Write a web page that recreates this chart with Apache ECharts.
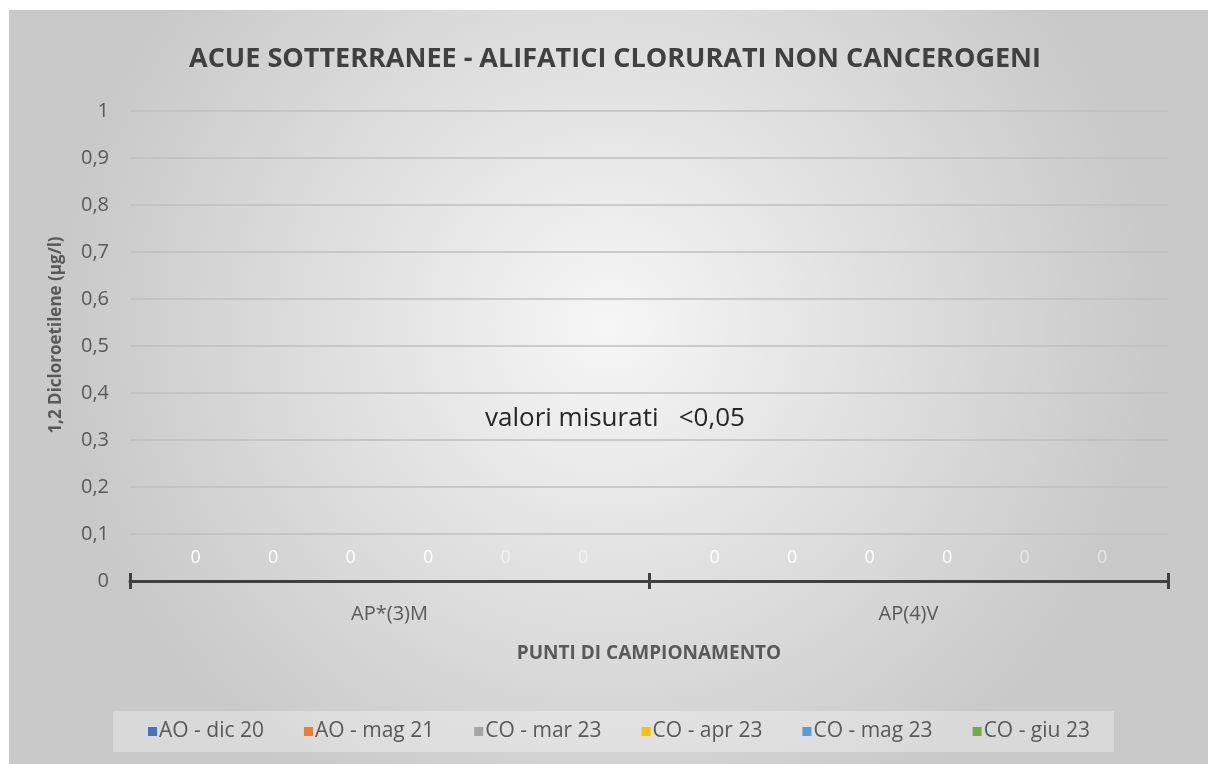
<!DOCTYPE html>
<html>
<head>
<meta charset="utf-8">
<script src="https://cdn.jsdelivr.net/npm/echarts@6/dist/echarts.min.js"></script>
<style>
  html, body { margin: 0; padding: 0; background: #ffffff; }
  #chart { position: absolute; left: 9px; top: 10px; width: 1199px; height: 754px; }
</style>
</head>
<body>
<div id="chart"></div>
<script>
const categories = ['AP*(3)M', 'AP(4)V']
const seriesNames = ['AO - dic 20', 'AO - mag 21', 'CO - mar 23', 'CO - apr 23', 'CO - mag 23', 'CO - giu 23']
const seriesValues = [
  [0, 0],
  [0, 0],
  [0, 0],
  [0, 0],
  [0, 0],
  [0, 0]
]
const seriesColors = ['#4472C4', '#ED7D31', '#A5A5A5', '#FFC000', '#5B9BD5', '#70AD47']
const labelColors = ['#ffffff', '#ffffff', '#ffffff', '#ffffff', 'rgba(255,255,255,0.55)', 'rgba(255,255,255,0.55)']
const yTicks = [0, 0.1, 0.2, 0.3, 0.4, 0.5, 0.6, 0.7, 0.8, 0.9, 1]

const font = '"Open Sans", "Noto Sans", sans-serif'
const fmt = (v) => String(v).replace('.', ',')

const chart = echarts.init(document.getElementById('chart'))

chart.setOption({
  backgroundColor: {
    type: 'radial',
    x: 0.5, y: 0.42, r: 0.72,
    colorStops: [
      { offset: 0, color: '#f6f6f6' },
      { offset: 1, color: '#c9c9c9' }
    ]
  },
  animation: false,
  textStyle: { fontFamily: font },
  title: {
    text: 'ACUE SOTTERRANEE - ALIFATICI CLORURATI NON CANCEROGENI',
    left: 601,
    textAlign: 'center',
    top: 31,
    textStyle: {
      fontSize: 27,
      fontWeight: 'bold',
      color: '#404040'
    }
  },
  legend: {
    data: seriesNames,
    left: 104,
    bottom: 12,
    itemWidth: 9,
    itemHeight: 9,
    itemGap: 40,
    padding: [10, 24, 10, 35],
    backgroundColor: 'rgba(255,255,255,0.3)',
    icon: 'rect',
    textStyle: {
      fontSize: 21,
      color: '#595959',
      padding: [0, 0, 0, -3]
    }
  },
  grid: {
    left: 121,
    right: 40,
    top: 101,
    bottom: 183
  },
  xAxis: [
    {
      type: 'category',
      data: categories,
      name: 'PUNTI DI CAMPIONAMENTO',
      nameLocation: 'middle',
      nameGap: 63,
      nameTextStyle: { fontSize: 19, fontWeight: 'bold', color: '#595959' },
      axisLine: { lineStyle: { color: '#404040', width: 3 } },
      axisTick: { show: true, length: 8, lineStyle: { color: '#404040', width: 3 } },
      axisLabel: { fontSize: 20, color: '#595959', margin: 23 }
    },
    {
      type: 'category',
      data: categories,
      position: 'bottom',
      offset: 0,
      axisLine: { show: false },
      axisTick: { show: true, inside: true, length: 8, lineStyle: { color: '#404040', width: 3 } },
      axisLabel: { show: false }
    }
  ],
  yAxis: {
    type: 'value',
    min: 0,
    max: 1,
    interval: 0.1,
    name: '1,2 Dicloroetilene (µg/l)',
    nameLocation: 'middle',
    nameGap: 65,
    nameTextStyle: { fontSize: 17, fontWeight: 'bold', color: '#595959', padding: [0, 0, 0, 22] },
    axisLine: { show: false },
    axisTick: { show: false },
    axisLabel: {
      fontSize: 20,
      color: '#595959',
      margin: 21,
      formatter: (v) => yTicks.includes(Math.round(v * 10) / 10) ? fmt(Math.round(v * 10) / 10) : ''
    },
    splitLine: { lineStyle: { color: '#bfbfbf', width: 1.5 } }
  },
  series: seriesNames.map((name, i) => ({
    name,
    type: 'bar',
    xAxisIndex: 0,
    data: seriesValues[i],
    barGap: '0%',
    barCategoryGap: '10.4%',
    itemStyle: { color: seriesColors[i] },
    label: {
      show: true,
      position: 'top',
      distance: 14,
      fontSize: 18,
      color: labelColors[i],
      formatter: (p) => fmt(p.value)
    }
  })),
  graphic: [
    {
      type: 'text',
      left: 476,
      top: 396,
      style: {
        text: 'valori misurati   <0,05',
        font: '26px "Open Sans", sans-serif',
        fill: '#262626'
      }
    }
  ]
})
</script>
</body>
</html>
